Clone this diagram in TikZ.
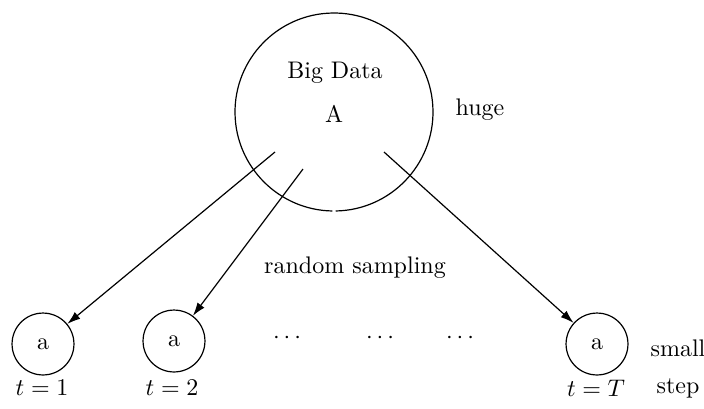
\documentclass[tikz,border=0pt]{standalone}
\usetikzlibrary{arrows.meta}
\begin{document}
\begin{tikzpicture}[x=0.4167pt,y=-0.4167pt,
  line width=0.5pt,
  small/.style={draw,circle,minimum size=25.8pt,inner sep=0pt},
  sample/.style={-{Latex[length=5.5pt,width=3.6pt]}},
  lbl/.style={inner sep=0pt}]
\useasboundingbox (0,0) rectangle (704,408);
% the large data set, drawn as an arc with a tiny seam at the bottom
\node[circle,minimum size=82.5pt,inner sep=0pt,outer sep=0pt] (big) at (334,112) {};
\draw (big.-89) arc[start angle=-89,end angle=269,radius=41.25pt];
\node[lbl] (bigtxt) at (335,73) {Big Data};
\node[lbl] (A) at (334,114) {A};
\node[lbl] (huge) at (480,110) {huge};
% sampled subsets
\node[small] (a1) at (43,344) {a};
\node[small] (a2) at (174,341) {a};
\node[small] (aT) at (597,344) {a};
\node[lbl] (d1) at (287,338) {$\cdots$};
\node[lbl] (d2) at (380,338) {$\cdots$};
\node[lbl] (d3) at (460,338) {$\cdots$};
\node[lbl] (small) at (678,348) {small};
\node[lbl] (t1) at (42,388) {$t=1$};
\node[lbl] (t2) at (172,388) {$t=2$};
\node[lbl] (tT) at (596,388) {$t=T$};
\node[lbl] (step) at (678,388) {step};
\node[lbl] (rs) at (355,268) {random sampling};
% sampling arrows
\coordinate (s1) at (275,152);
\coordinate (s2) at (303,169);
\coordinate (s3) at (384,152);
\draw[sample] (s1) -- (a1);
\draw[sample] (s2) -- (a2);
\draw[sample] (s3) -- (aT);
\end{tikzpicture}
\end{document}
